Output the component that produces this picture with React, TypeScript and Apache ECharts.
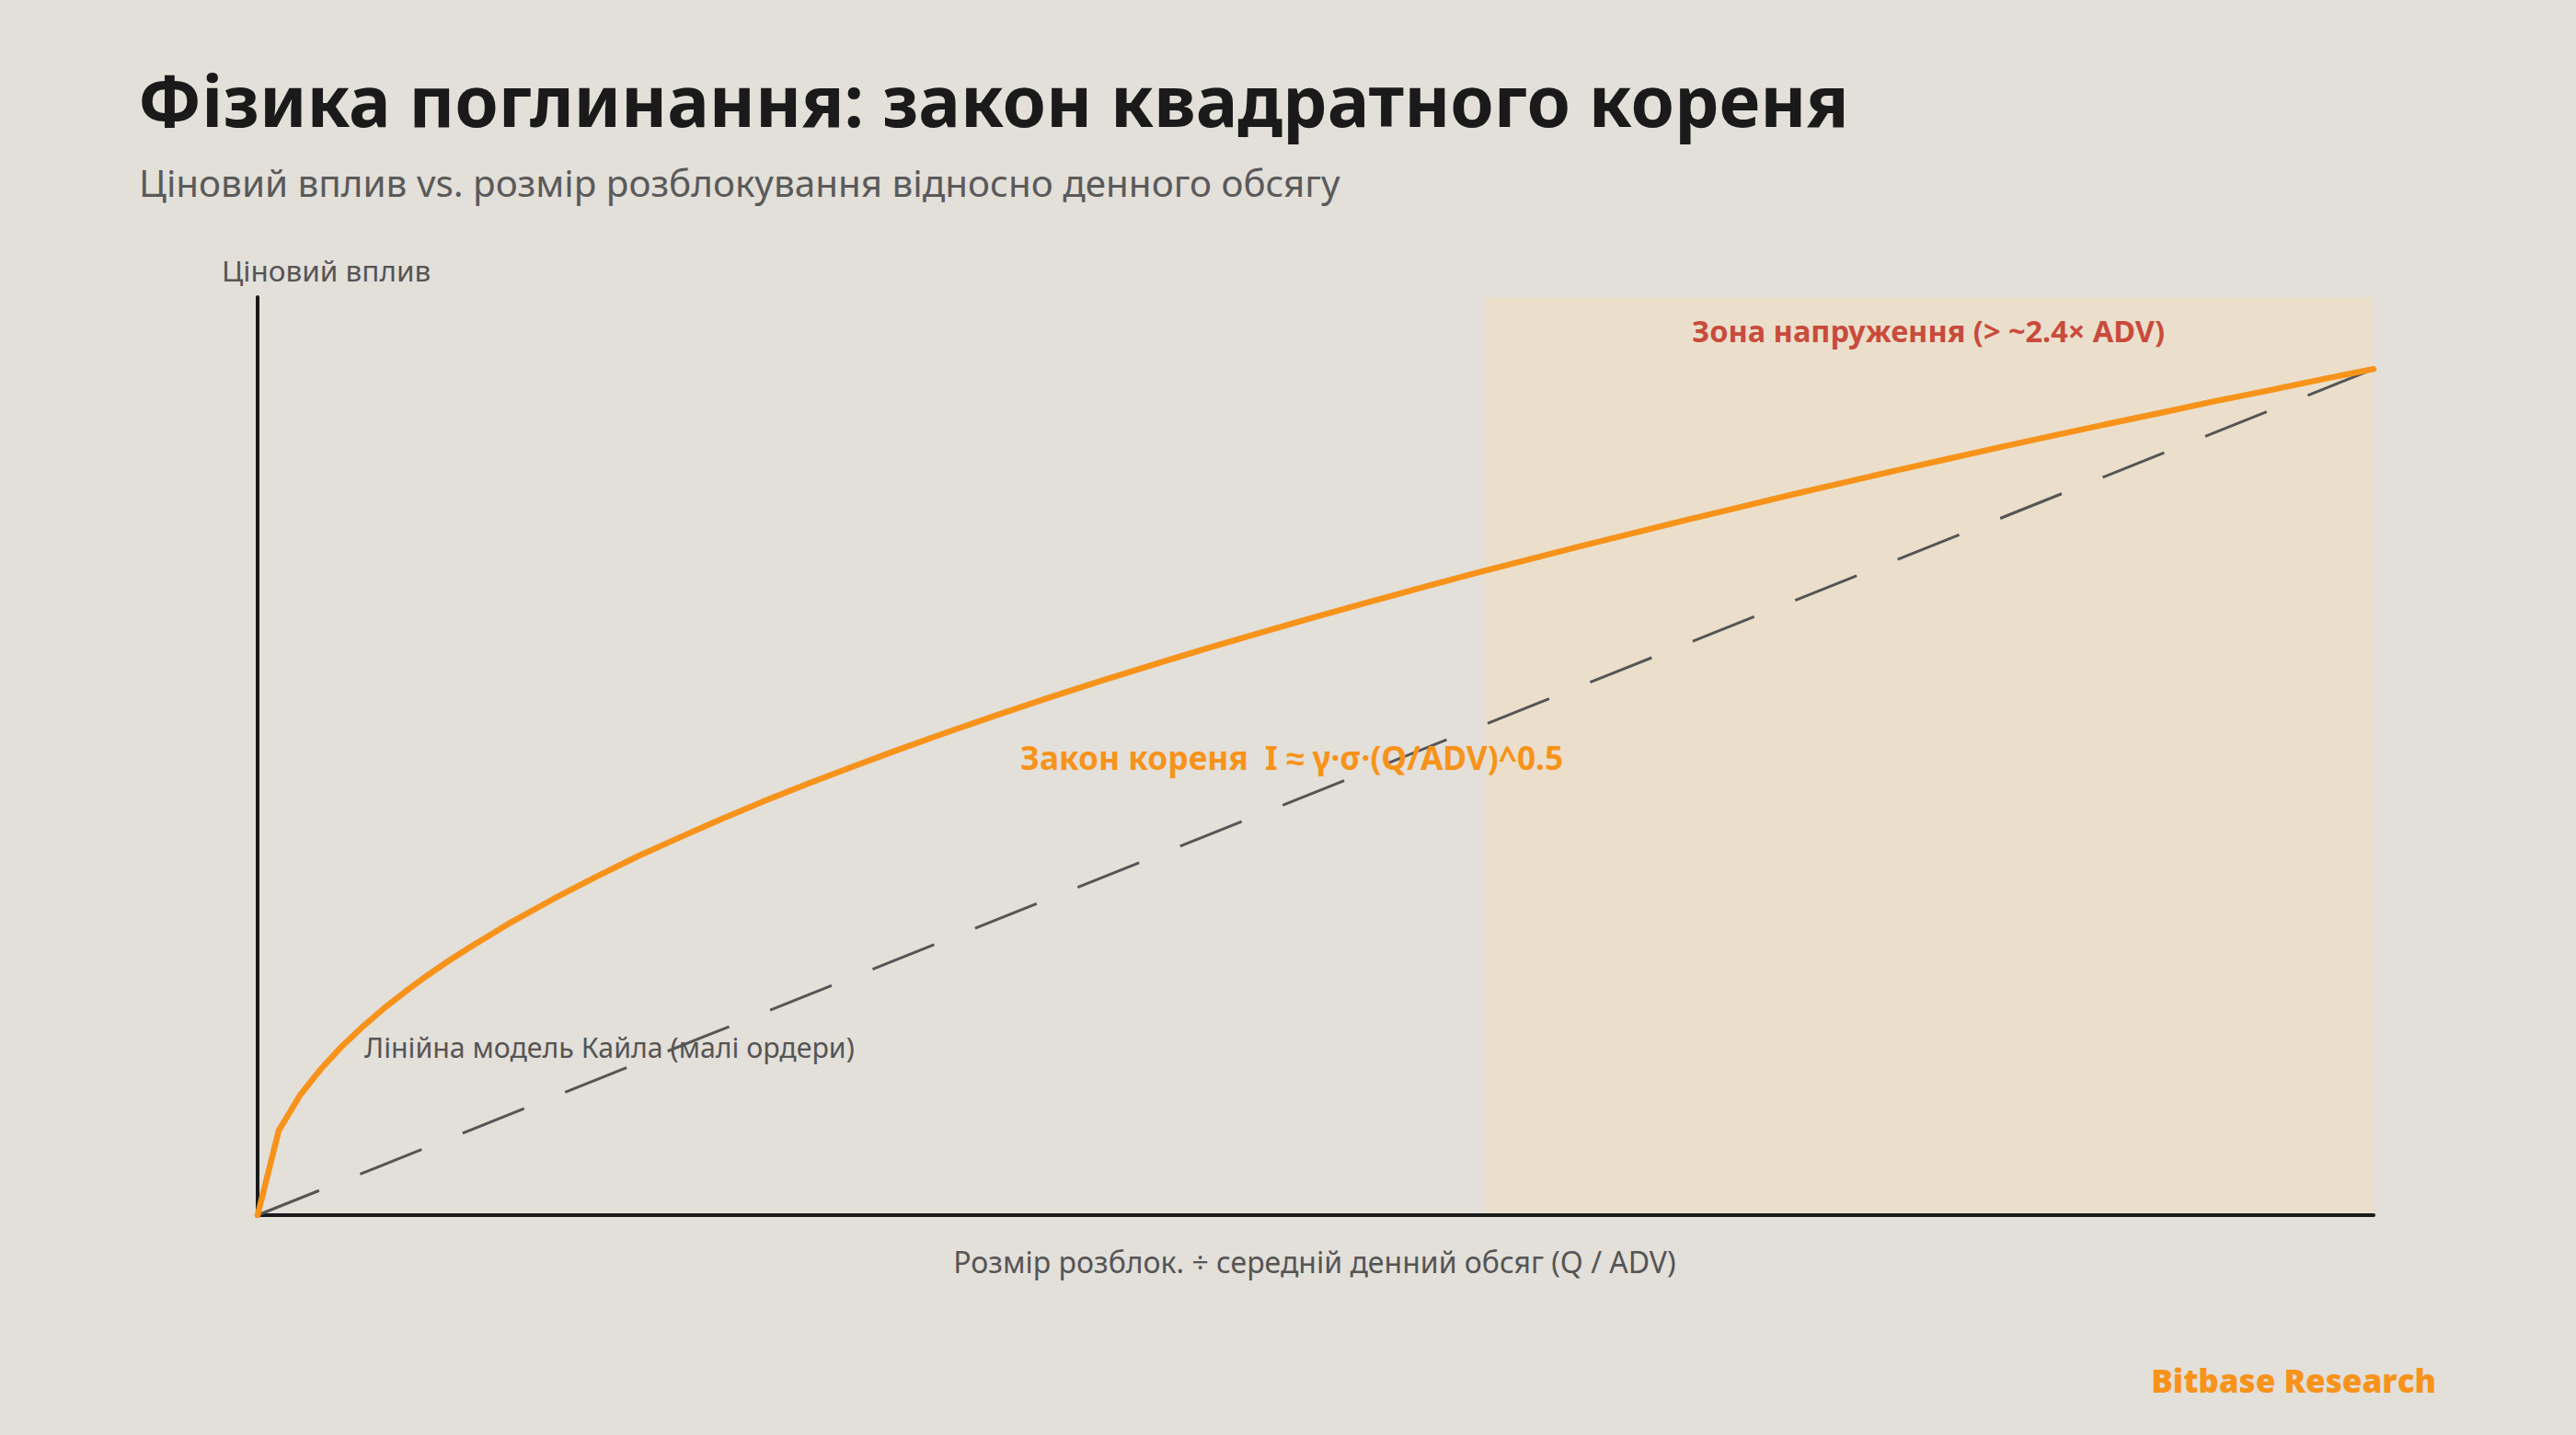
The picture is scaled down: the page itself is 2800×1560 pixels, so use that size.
import React, { useEffect, useRef } from "react";
import * as echarts from "echarts";

// Q / ADV values sampled along the curve
const xValues = [0, 0.04, 0.08, 0.12, 0.16, 0.2, 0.24, 0.28, 0.32, 0.36, 0.4, 0.48, 0.56, 0.64, 0.72, 0.8, 0.88, 0.96, 1.04, 1.12, 1.2, 1.3, 1.4, 1.5, 1.6, 1.7, 1.8, 1.9, 2.0, 2.1, 2.2, 2.3, 2.4, 2.5, 2.6, 2.7, 2.8, 2.9, 3.0, 3.1, 3.2, 3.3, 3.4, 3.5, 3.6, 3.7, 3.8, 3.9, 4.0];
// square-root law impact
const sqrtImpact = [0, 0.2, 0.283, 0.346, 0.4, 0.447, 0.49, 0.529, 0.566, 0.6, 0.632, 0.693, 0.748, 0.8, 0.849, 0.894, 0.938, 0.98, 1.02, 1.058, 1.095, 1.14, 1.183, 1.225, 1.265, 1.304, 1.342, 1.378, 1.414, 1.449, 1.483, 1.517, 1.549, 1.581, 1.612, 1.643, 1.673, 1.703, 1.732, 1.761, 1.789, 1.817, 1.844, 1.871, 1.897, 1.924, 1.949, 1.975, 2.0];
// linear Kyle model: endpoints of the dashed line
const kyleX = [0, 4.0];
const kyleY = [0, 2.0];
// stress zone range on the x axis
const stressZone = [2.32, 4.0];
const xMax = 4.0;
const yMax = 2.17;

const TITLE = "Фізика поглинання: закон квадратного кореня";
const SUBTITLE = "Ціновий вплив vs. розмір розблокування відносно денного обсягу";
const Y_NAME = "Ціновий вплив";
const X_NAME = "Розмір розблок. ÷ середній денний обсяг (Q / ADV)";
const ZONE_LABEL = "Зона напруження (> ~2.4× ADV)";
const SQRT_LABEL = "Закон кореня  I ≈ γ·σ·(Q/ADV)^0.5";
const KYLE_LABEL = "Лінійна модель Кайла (малі ордери)";
const BRAND = "Bitbase Research";

const ORANGE = "#F7931A";
const BG = "#E3DFD9";

export default function App() {
  const ref = useRef<HTMLDivElement>(null);
  useEffect(() => {
    document.body.style.margin = "0";
    document.body.style.background = BG;
    const chart = echarts.init(ref.current!, null, { renderer: "svg" });
    const sqrtData = xValues.map((x, i) => [x, sqrtImpact[i]]);
    const kyleData = kyleX.map((x, i) => [x, kyleY[i]]);
    const font = "'Noto Sans', sans-serif";
    const txt = (style: any) => ({ type: "text", z: 100, silent: true, style: { textVerticalAlign: "middle", ...style } });
    const axisCommon = {
      type: "value",
      z: 5,
      axisLine: { show: true, lineStyle: { color: "#1a1a1a", width: 4 } },
      axisTick: { show: false },
      axisLabel: { show: false },
      splitLine: { show: false },
    };
    chart.setOption({
      animation: false,
      backgroundColor: BG,
      grid: { left: 280, right: 220, top: 323, bottom: 239, containLabel: false },
      xAxis: { ...axisCommon, min: 0, max: xMax },
      yAxis: { ...axisCommon, min: 0, max: yMax },
      series: [
        {
          type: "line",
          data: [],
          z: 0,
          markArea: {
            silent: true,
            itemStyle: { color: "#EBDFCC" },
            data: [[{ xAxis: stressZone[0] }, { xAxis: stressZone[1] }]],
          },
        },
        {
          type: "line",
          data: kyleData,
          showSymbol: false,
          symbol: "none",
          z: 6,
          lineStyle: { color: "#555555", width: 3, type: [72, 48] },
        },
        {
          type: "line",
          data: sqrtData,
          showSymbol: false,
          symbol: "none",
          z: 7,
          lineStyle: { color: ORANGE, width: 6.5, cap: "round", join: "round" },
        },
      ],
      graphic: [
        txt({ text: TITLE, x: 150, y: 108, font: `700 76.5px ${font}`, fill: "#1a1a1a" }),
        txt({ text: SUBTITLE, x: 151, y: 198, font: `400 40.4px ${font}`, fill: "#5a5a5a" }),
        txt({ text: Y_NAME, x: 241, y: 293, font: `400 31.5px ${font}`, fill: "#555555" }),
        txt({ text: X_NAME, x: 1429, y: 1371, font: `400 32px ${font}`, fill: "#555555", textAlign: "center" }),
        txt({ text: ZONE_LABEL, x: 1839, y: 359, font: `700 32.5px ${font}`, fill: "#C84B3C" }),
        txt({ text: SQRT_LABEL, x: 1109, y: 823, font: `700 35.3px ${font}`, fill: ORANGE }),
        txt({ text: KYLE_LABEL, x: 396, y: 1138, font: `400 30.3px ${font}`, fill: "#555555" }),
        txt({ text: BRAND, x: 2648, y: 1500, font: `800 35px 'Open Sans', sans-serif`, fill: ORANGE, textAlign: "right" }),
      ],
    });
    return () => chart.dispose();
  }, []);
  return <div ref={ref} style={{ width: 2800, height: 1560 }} />;
}
